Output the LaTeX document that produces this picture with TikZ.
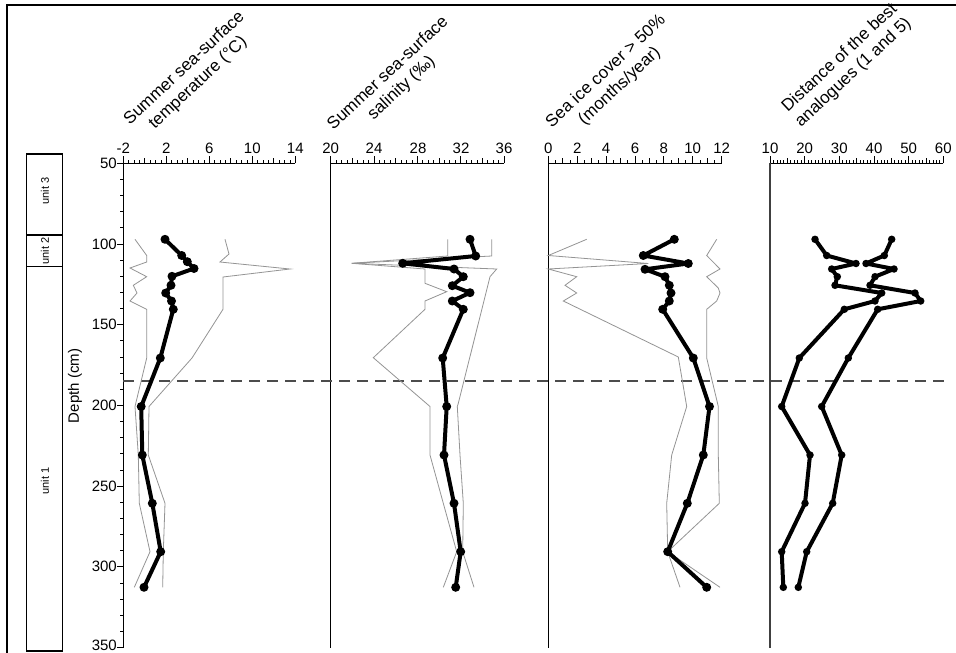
\documentclass[tikz,border=0pt]{standalone}
\usepackage{fontspec}
\setmainfont{Liberation Sans}
\newcommand\axticks[5]{%
  \foreach \i in {0,...,#3}{%
    \pgfmathsetmacro\xx{#1+\i*#2}%
    \pgfmathsetmacro\LL{ifthenelse(mod(\i,#4)==0,7,ifthenelse(mod(\i,#5)==0,5,3))}%
    \draw[tickline] (\xx,163.3) -- (\xx,163.3-\LL);
  }}
\begin{document}
\begin{tikzpicture}[x=1pt,y=-1pt,
  frameline/.style={line width=1.5pt, black},
  axisline/.style={line width=1.2pt, black},
  tickline/.style={line width=0.8pt, black},
  dataline/.style={line width=4pt, line join=round, line cap=round, black},
  bound/.style={line width=0.8pt, black!42, line join=miter},
  dot/.style={circle, fill=black, inner sep=0pt, minimum size=9pt},
  ticklab/.style={font=\fontsize{15}{15}\selectfont, inner sep=0pt},
  ttl/.style={font=\fontsize{17}{20}\selectfont, align=center, rotate=43, inner sep=0pt},
  unitlab/.style={font=\fontsize{11}{11}\selectfont, rotate=90, inner sep=0pt},
  datumline/.style={dash pattern=on 11pt off 7pt, line width=1.8pt, black!70}]
\useasboundingbox (0,0) rectangle (956,653);
\fill[white] (0,0) rectangle (956,653);
% outer frame
\draw[frameline] (7,660) -- (7,5) -- (960,5);
% unit column
\draw[line width=1.4pt] (26.7,154) rectangle (62.7,651);
\draw[line width=1.4pt] (26.7,235) -- (62.7,235);
\draw[line width=1.4pt] (26.7,266.7) -- (62.7,266.7);
\node[unitlab] (u3) at (45,191) {unit 3};
\node[unitlab] (u2) at (45,251) {unit 2};
\node[unitlab] (u1) at (45,481) {unit 1};
\node[font=\fontsize{15}{15}\selectfont, rotate=90, inner sep=0pt] (dlab) at (75,386) {Depth (cm)};
% depth axis
\draw[axisline] (123.3,163.3) -- (123.3,647.5);
\foreach \d in {50,60,...,350}{%
  \pgfmathsetmacro\yy{163.3+(\d-50)*1.614}%
  \pgfmathsetmacro\LL{ifthenelse(mod(\d,50)==0,6,3)}%
  \draw[tickline] (123.3,\yy) -- (123.3-\LL,\yy);
}
\foreach \d in {50,100,...,300}{%
  \pgfmathsetmacro\yy{163.3+(\d-50)*1.614}%
  \node[ticklab, anchor=east] (d\d) at (117,\yy) {\d};
}
\node[ticklab, anchor=east] (d350) at (117,645.5) {350};
% panel axes
\draw[axisline] (123.3,163.3) -- (295.3,163.3);
\draw[axisline] (330.7,163.3) -- (504,163.3);
\draw[axisline] (330.7,163.3) -- (330.7,648);
\draw[axisline] (548.3,163.3) -- (721.7,163.3);
\draw[axisline] (548.3,163.3) -- (548.3,648);
\draw[axisline] (770,163.3) -- (943.3,163.3);
\draw[axisline, black!75] (770,163.3) -- (770,648);
\axticks{123.3}{5.375}{32}{8}{4}
\axticks{330.7}{5.416}{32}{8}{4}
\axticks{548.3}{7.222}{24}{4}{2}
\axticks{770}{3.466}{50}{10}{5}
% tick labels
\foreach \v/\x in {-2/123.3,2/166.3,6/209.3,10/252.3,14/295.3}{\node[ticklab] (ta\v) at (\x,148.5) {\v};}
\foreach \v/\x in {20/330.7,24/374,28/418,32/461,36/504}{\node[ticklab] (tb\v) at (\x,148.5) {\v};}
\foreach \v/\x in {0/548.3,2/577.2,4/606.1,6/635,8/663.8,10/692.7,12/721.7}{\node[ticklab] (tc\v) at (\x,148.5) {\v};}
\foreach \v/\x in {10/770,20/804.7,30/839.3,40/874,50/908.7,60/943.3}{\node[ticklab] (td\v) at (\x,148.5) {\v};}
% titles
\node[ttl] (t1) at (191.3,75.8) {Summer sea-surface\\temperature (°C)};
\node[ttl] (t2) at (395,80.8) {Summer sea-surface\\salinity (‰)};
\node[ttl] (t3) at (612.9,78.8) {Sea ice cover > 50\%\\(months/year)};
\node[ttl] (t4) at (846.7,65.4) {Distance of the best\\analogues (1 and 5)};
% dashed boundary
\draw[datumline] (123.3,381) -- (945,381);
% ---- panel 1: temperature
\draw[bound] (135,239.3) -- (146.7,255.5) -- (146.7,262) -- (130,268) -- (146.7,276.7) -- (133.3,285.3) -- (137,293) -- (130,301) -- (146.7,309.3) -- (146.7,358) -- (135,406.5) -- (138.3,455) -- (139.3,503.3) -- (150,551.7) -- (134.3,587.3);
\draw[bound] (225,239.3) -- (229,254) -- (220,262) -- (290,269) -- (223,277) -- (223,309.3) -- (192,358) -- (149,406.5) -- (148.3,455) -- (165,503.3) -- (163.3,551.7) -- (162.7,587.3);
\draw[dataline] (165,239.3) -- (181.7,255.5) -- (187.3,261.7) -- (194,268.5) -- (172,276.3) -- (171,285.3) -- (165.7,293) -- (171.5,301) -- (173.3,309.3) -- (160.3,358) -- (141.2,406.5) -- (142.3,455) -- (152.3,503.3) -- (160.7,551.7) -- (144,587.3);
\foreach \p in {(165,239.3),(181.7,255.5),(187.3,261.7),(194,268.5),(172,276.3),(171,285.3),(165.7,293),(171.5,301),(173.3,309.3),(160.3,358),(141.2,406.5),(142.3,455),(152.3,503.3),(160.7,551.7),(144,587.3)}{\node[dot] at \p {};}
% ---- panel 2: salinity
\draw[bound] (447.7,239.3) -- (447.7,256) -- (351.7,263.3) -- (425,269) -- (425,283.3) -- (446.7,291.7) -- (425,301) -- (425,309.3) -- (373.3,357.7) -- (430,406.5) -- (430,455) -- (443.3,503.3) -- (456.7,551.7) -- (443.3,587.3);
\draw[bound] (491.7,239.3) -- (491.7,256) -- (351.7,263.3) -- (496.7,269) -- (490,276.7) -- (458.3,403.3) -- (457.3,406.5) -- (460,455) -- (463.3,503.3) -- (462.7,551.7) -- (474,587.3);
\draw[dataline] (470,239.3) -- (475.7,256) -- (402.7,263.3) -- (454,269) -- (463.3,276.7) -- (452.3,285.7) -- (470,292.7) -- (452.3,301) -- (463.3,309.3) -- (442.7,358) -- (446.7,406.5) -- (444,455) -- (454,503.3) -- (460.7,551.7) -- (455.7,587.3);
\foreach \p in {(470,239.3),(475.7,256),(402.7,263.3),(454,269),(463.3,276.7),(452.3,285.7),(470,292.7),(452.3,301),(463.3,309.3),(442.7,358),(446.7,406.5),(444,455),(454,503.3),(460.7,551.7),(455.7,587.3)}{\node[dot] at \p {};}
% ---- panel 3: sea ice
\draw[bound] (586.7,239.3) -- (548.3,255.5) -- (648.3,263.5) -- (548.3,269) -- (576.7,276.7) -- (565,285.3) -- (576.7,293) -- (563.3,301) -- (678.3,357) -- (686.7,406.5) -- (671.7,455) -- (666.7,503.3) -- (667.7,551.7) -- (680,587.3);
\draw[bound] (716.7,239.3) -- (706.7,255.5) -- (720,269) -- (706.7,276.7) -- (718.3,288) -- (720,293) -- (716.7,301) -- (706.7,309.3) -- (706.7,358) -- (718.3,406.5) -- (718.3,455) -- (719.3,503.3) -- (667.7,551.7) -- (720,587.3);
\draw[dataline] (674.3,239.3) -- (643.3,255.5) -- (688.3,263.5) -- (645,269.3) -- (665,276.7) -- (669.3,285.3) -- (671,293) -- (669.3,301) -- (662.7,309.3) -- (693.3,358) -- (709.5,406.5) -- (703.3,455) -- (687.3,503.3) -- (667.7,551.7) -- (706.7,587.3);
\foreach \p in {(674.3,239.3),(643.3,255.5),(688.3,263.5),(645,269.3),(665,276.7),(669.3,285.3),(671,293),(669.3,301),(662.7,309.3),(693.3,358),(709.5,406.5),(703.3,455),(687.3,503.3),(667.7,551.7),(706.7,587.3)}{\node[dot] at \p {};}
% ---- panel 4: distances
\draw[dataline] (815,239.3) -- (826.7,255.5) -- (856,263.5) -- (831.7,269) -- (837.3,276.7) -- (835,285.3) -- (881.7,293) -- (875,301) -- (844.3,309.3) -- (799.3,358) -- (781.7,406.5) -- (810,455) -- (805,503.3) -- (781.7,551.7) -- (783.3,587.3);
\draw[dataline] (891.7,239.3) -- (884.3,255.5) -- (866,263.5) -- (894,269) -- (875,276.7) -- (870,285.3) -- (915,293) -- (920.7,301) -- (877.7,309.3) -- (848.3,358) -- (821.7,406.5) -- (841.7,455) -- (832.7,503.3) -- (806.7,551.7) -- (798.3,587.3);
\foreach \p in {(815,239.3),(826.7,255.5),(856,263.5),(831.7,269),(837.3,276.7),(835,285.3),(881.7,293),(875,301),(844.3,309.3),(799.3,358),(781.7,406.5),(810,455),(805,503.3),(781.7,551.7),(783.3,587.3),(891.7,239.3),(884.3,255.5),(866,263.5),(894,269),(875,276.7),(870,285.3),(915,293),(920.7,301),(877.7,309.3),(848.3,358),(821.7,406.5),(841.7,455),(832.7,503.3),(806.7,551.7),(798.3,587.3)}{\node[dot, minimum size=7.5pt] at \p {};}
\end{tikzpicture}
\end{document}
